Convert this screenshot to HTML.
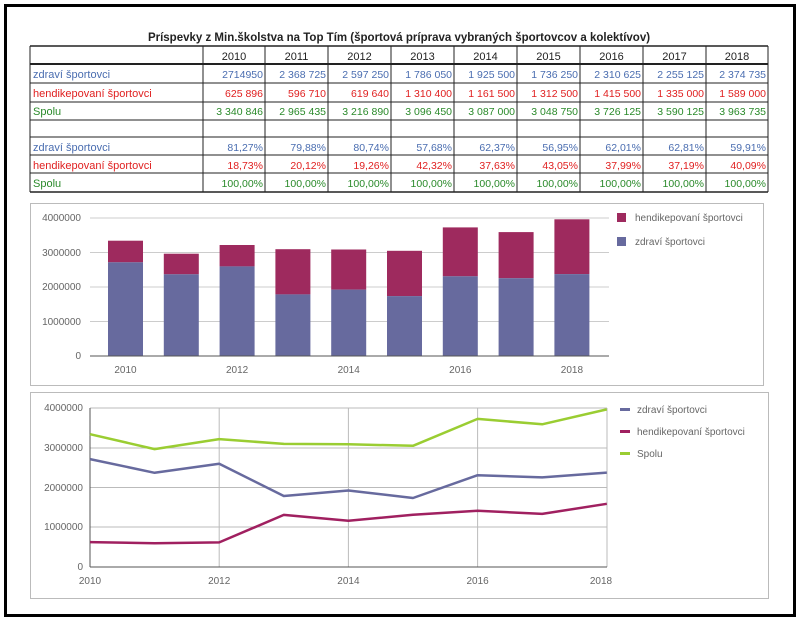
<!DOCTYPE html>
<html><head><meta charset="utf-8"><style>html,body{margin:0;padding:0;background:#fff}svg{display:block}</style></head>
<body>
<svg width="800" height="623" xmlns="http://www.w3.org/2000/svg" font-family="Liberation Sans, sans-serif">
<rect x="0" y="0" width="800" height="623" fill="#fff"/>
<rect x="5.5" y="5.5" width="789" height="610" fill="none" stroke="#000" stroke-width="3"/>
<text x="399" y="41" font-size="11.5" font-weight="bold" text-anchor="middle" fill="#222">Príspevky z Min.školstva na Top Tím (športová príprava vybraných športovcov a kolektívov)</text>
<g stroke="#222" stroke-width="1">
<line x1="30" y1="46" x2="768" y2="46" stroke-width="1.5"/>
<line x1="30" y1="64" x2="768" y2="64" stroke-width="2"/>
<line x1="30" y1="83" x2="768" y2="83"/>
<line x1="30" y1="102" x2="768" y2="102"/>
<line x1="30" y1="120" x2="768" y2="120"/>
<line x1="30" y1="137" x2="768" y2="137"/>
<line x1="30" y1="155" x2="768" y2="155"/>
<line x1="30" y1="173" x2="768" y2="173"/>
<line x1="30" y1="192" x2="768" y2="192" stroke-width="1.5"/>
<line x1="30" y1="46" x2="30" y2="192"/>
<line x1="203" y1="46" x2="203" y2="192"/>
<line x1="265" y1="46" x2="265" y2="192"/>
<line x1="328" y1="46" x2="328" y2="192"/>
<line x1="391" y1="46" x2="391" y2="192"/>
<line x1="454" y1="46" x2="454" y2="192"/>
<line x1="517" y1="46" x2="517" y2="192"/>
<line x1="580" y1="46" x2="580" y2="192"/>
<line x1="643" y1="46" x2="643" y2="192"/>
<line x1="706" y1="46" x2="706" y2="192"/>
<line x1="768" y1="46" x2="768" y2="192"/>
</g>
<g font-size="11" text-anchor="middle" fill="#222">
<text x="234" y="60">2010</text><text x="296.5" y="60">2011</text><text x="359.5" y="60">2012</text><text x="422.5" y="60">2013</text><text x="485.5" y="60">2014</text><text x="548.5" y="60">2015</text><text x="611.5" y="60">2016</text><text x="674.5" y="60">2017</text><text x="737" y="60">2018</text>
</g>
<g font-size="11">
<text x="33" y="78" fill="#4a6db0">zdraví športovci</text>
<text x="33" y="97" fill="#e02020">hendikepovaní športovci</text>
<text x="33" y="115" fill="#2a8a2a">Spolu</text>
<text x="33" y="151" fill="#4a6db0">zdraví športovci</text>
<text x="33" y="169" fill="#e02020">hendikepovaní športovci</text>
<text x="33" y="187" fill="#2a8a2a">Spolu</text>
</g>
<g font-size="10.5" text-anchor="end">
<g fill="#4a6db0">
<text x="263" y="78">2714950</text><text x="326" y="78">2 368 725</text><text x="389" y="78">2 597 250</text><text x="452" y="78">1 786 050</text><text x="515" y="78">1 925 500</text><text x="578" y="78">1 736 250</text><text x="641" y="78">2 310 625</text><text x="704" y="78">2 255 125</text><text x="766" y="78">2 374 735</text>
<text x="263" y="151">81,27%</text><text x="326" y="151">79,88%</text><text x="389" y="151">80,74%</text><text x="452" y="151">57,68%</text><text x="515" y="151">62,37%</text><text x="578" y="151">56,95%</text><text x="641" y="151">62,01%</text><text x="704" y="151">62,81%</text><text x="766" y="151">59,91%</text>
</g>
<g fill="#e02020">
<text x="263" y="97">625 896</text><text x="326" y="97">596 710</text><text x="389" y="97">619 640</text><text x="452" y="97">1 310 400</text><text x="515" y="97">1 161 500</text><text x="578" y="97">1 312 500</text><text x="641" y="97">1 415 500</text><text x="704" y="97">1 335 000</text><text x="766" y="97">1 589 000</text>
<text x="263" y="169">18,73%</text><text x="326" y="169">20,12%</text><text x="389" y="169">19,26%</text><text x="452" y="169">42,32%</text><text x="515" y="169">37,63%</text><text x="578" y="169">43,05%</text><text x="641" y="169">37,99%</text><text x="704" y="169">37,19%</text><text x="766" y="169">40,09%</text>
</g>
<g fill="#2a8a2a">
<text x="263" y="115">3 340 846</text><text x="326" y="115">2 965 435</text><text x="389" y="115">3 216 890</text><text x="452" y="115">3 096 450</text><text x="515" y="115">3 087 000</text><text x="578" y="115">3 048 750</text><text x="641" y="115">3 726 125</text><text x="704" y="115">3 590 125</text><text x="766" y="115">3 963 735</text>
<text x="263" y="187">100,00%</text><text x="326" y="187">100,00%</text><text x="389" y="187">100,00%</text><text x="452" y="187">100,00%</text><text x="515" y="187">100,00%</text><text x="578" y="187">100,00%</text><text x="641" y="187">100,00%</text><text x="704" y="187">100,00%</text><text x="766" y="187">100,00%</text>
</g>
</g>

<!-- bar chart -->
<rect x="30.5" y="203.5" width="733" height="182" fill="#fff" stroke="#bbb"/>
<g stroke="#ccc" stroke-width="1">
<line x1="90" y1="218" x2="609" y2="218"/><line x1="90" y1="252.5" x2="609" y2="252.5"/><line x1="90" y1="287" x2="609" y2="287"/><line x1="90" y1="321.5" x2="609" y2="321.5"/>
</g>
<g fill="#9e2a5e">
<rect x="108" y="240.7" width="35" height="21.6"/><rect x="163.8" y="253.7" width="35" height="20.6"/><rect x="219.6" y="245" width="35" height="21.4"/><rect x="275.4" y="249.2" width="35" height="45.2"/><rect x="331.2" y="249.5" width="35" height="40.1"/><rect x="387" y="250.8" width="35" height="45.3"/><rect x="442.8" y="227.4" width="35" height="48.9"/><rect x="498.6" y="232.1" width="35" height="46.1"/><rect x="554.4" y="219.3" width="35" height="54.8"/>
</g>
<g fill="#676a9e">
<rect x="108" y="262.3" width="35" height="93.7"/><rect x="163.8" y="274.3" width="35" height="81.7"/><rect x="219.6" y="266.4" width="35" height="89.6"/><rect x="275.4" y="294.4" width="35" height="61.6"/><rect x="331.2" y="289.6" width="35" height="66.4"/><rect x="387" y="296.1" width="35" height="59.9"/><rect x="442.8" y="276.3" width="35" height="79.7"/><rect x="498.6" y="278.2" width="35" height="77.8"/><rect x="554.4" y="274.1" width="35" height="81.9"/>
</g>
<line x1="90" y1="356" x2="609" y2="356" stroke="#555"/>
<g font-size="10" fill="#666" text-anchor="end">
<text x="81" y="221">4000000</text><text x="81" y="256">3000000</text><text x="81" y="290">2000000</text><text x="81" y="325">1000000</text><text x="81" y="359">0</text>
</g>
<g font-size="10" fill="#666" text-anchor="middle">
<text x="125.5" y="373">2010</text><text x="237.1" y="373">2012</text><text x="348.7" y="373">2014</text><text x="460.3" y="373">2016</text><text x="571.9" y="373">2018</text>
</g>
<rect x="617" y="213" width="9" height="9" fill="#9e2a5e"/>
<rect x="617" y="237" width="9" height="9" fill="#676a9e"/>
<g font-size="10" fill="#666"><text x="635" y="221">hendikepovaní športovci</text><text x="635" y="245">zdraví športovci</text></g>

<!-- line chart -->
<rect x="30.5" y="392.5" width="738" height="206" fill="#fff" stroke="#bbb"/>
<g stroke="#bbb" stroke-width="1">
<line x1="90" y1="408" x2="607" y2="408"/><line x1="90" y1="448" x2="607" y2="448"/><line x1="90" y1="487.5" x2="607" y2="487.5"/><line x1="90" y1="527" x2="607" y2="527"/>
<line x1="219.2" y1="408" x2="219.2" y2="567"/><line x1="348.4" y1="408" x2="348.4" y2="567"/><line x1="477.6" y1="408" x2="477.6" y2="567"/><line x1="607" y1="408" x2="607" y2="567"/>
</g>
<line x1="90" y1="408" x2="90" y2="567" stroke="#555"/>
<line x1="90" y1="567" x2="607" y2="567" stroke="#555"/>
<g fill="none" stroke-width="2.5" stroke-linejoin="round">
<polyline stroke="#9acd32" points="90,434.2 154.6,449.1 219.2,439.1 283.8,443.9 348.4,444.3 413,445.8 477.6,418.9 542.2,424.3 606.8,409.4"/>
<polyline stroke="#676a9e" points="90,459.1 154.6,472.8 219.2,463.8 283.8,496 348.4,490.5 413,498 477.6,475.2 542.2,477.4 606.8,472.6"/>
<polyline stroke="#a02060" points="90,542.1 154.6,543.3 219.2,542.4 283.8,514.9 348.4,520.8 413,514.8 477.6,510.7 542.2,513.9 606.8,503.8"/>
</g>
<g font-size="10" fill="#666" text-anchor="end">
<text x="83" y="411">4000000</text><text x="83" y="451">3000000</text><text x="83" y="491">2000000</text><text x="83" y="530">1000000</text><text x="83" y="570">0</text>
</g>
<g font-size="10" fill="#666" text-anchor="middle">
<text x="90" y="584">2010</text><text x="219.2" y="584">2012</text><text x="348.4" y="584">2014</text><text x="477.6" y="584">2016</text><text x="601" y="584">2018</text>
</g>
<rect x="620" y="408" width="10" height="3" fill="#676a9e"/>
<rect x="620" y="430" width="10" height="3" fill="#a02060"/>
<rect x="620" y="452" width="10" height="3" fill="#9acd32"/>
<g font-size="10" fill="#666"><text x="637" y="413">zdraví športovci</text><text x="637" y="435">hendikepovaní športovci</text><text x="637" y="457">Spolu</text></g>
</svg>
</body></html>
